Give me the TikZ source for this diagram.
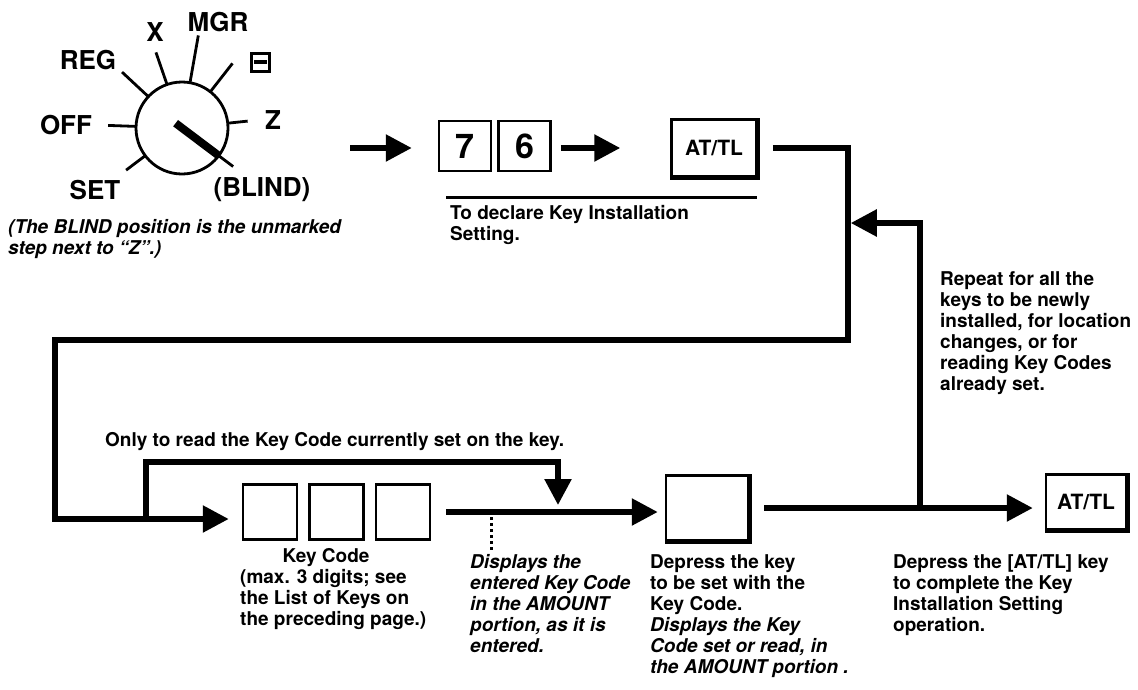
\documentclass[tikz,border=0pt]{standalone}
\usepackage{fontspec}
\setmainfont{TeX Gyre Heros}
\usetikzlibrary{arrows.meta, positioning}
\tikzset{
	dialtxt/.style={font=\fontsize{26}{28}\selectfont\bfseries, inner sep=0pt},
	note/.style={font=\fontsize{19}{21}\selectfont\bfseries, align=left, inner sep=0pt, anchor=north west},
	inote/.style={note, font=\fontsize{19}{21}\selectfont\bfseries\itshape},
	digitkey/.style={draw, line width=2.5pt, minimum width=52pt, minimum height=50pt, inner sep=0pt, font=\fontsize{34}{34}\selectfont\bfseries},
	funckey/.style={draw, line width=2.5pt, minimum width=85pt, minimum height=57pt, inner sep=0pt, font=\fontsize{21}{21}\selectfont\bfseries},
	codekey/.style={draw, line width=2.5pt, minimum width=54pt, minimum height=55pt, inner sep=0pt},
	flowline/.style={line width=5.5pt},
	flowarrow/.style={flowline, -{Triangle[length=26pt, width=26pt]}},
}

\begin{document}
\begin{tikzpicture}[x=1pt, y=-1pt]
\useasboundingbox (0,0) rectangle (1138,689);

% mode switch
\begin{scope}[shift={(182,128)}, yscale=-1]
	\draw[line width=2.8pt] (0,0) circle (46);
	\foreach \ang/\len in {178/74, 137/82, 109/80, 80/94, 52/82, 6/66, -37/64, -143/70}
		\draw[line width=2.8pt] (\ang:46) -- (\ang:\len);
	\draw[line width=8pt] (143:8) -- (-37:46);
\end{scope}
\node[dialtxt] (off) at (66,125) {OFF};
\node[dialtxt] (reg) at (88,60) {REG};
\node[dialtxt] (xpos) at (155,32) {X};
\node[dialtxt] (mgr) at (218,22) {MGR};
\node[draw, line width=3pt, minimum width=18pt, minimum height=18pt, inner sep=0pt] (minus) at (260,62) {};
\fill ([shift={(4pt,-2.2pt)}]minus.west) rectangle ([shift={(-4pt,2.2pt)}]minus.east);
\node[dialtxt] (zpos) at (273,120) {Z};
\node[dialtxt] (set) at (95,190) {SET};
\node[dialtxt] (blind) at (262,190) {(BLIND)};
\node[inote] (blindnote) at (8,219) {(The BLIND position is the unmarked\\step next to ``Z''.)};

% declare row
\node[digitkey] (k7) at (465,146) {7};
\node[digitkey, right=5pt of k7] (k6) {6};
\node[funckey] (atA) at (714,148) {AT/TL};
\draw[line width=3pt] (446,197) -- (757,197);
\node[note] (declare) at (450,205) {To declare Key Installation\\Setting.};

% setting row
\node[codekey] (kc1) at (270,512) {};
\node[codekey, right=10pt of kc1] (kc2) {};
\node[codekey, right=10pt of kc2] (kc3) {};
\node[codekey, minimum width=82pt, minimum height=65pt] (keyset) at (707,508) {};
\node[funckey, minimum width=80pt, minimum height=55pt] (atB) at (1086,502) {AT/TL};
\foreach \k in {atA, keyset, atB}
	\draw[line width=5pt] (\k.north east) -- (\k.south east) -- (\k.south west);

% connectors
\coordinate (dialout) at (350,148);
\coordinate (c1) at (848,340);
\coordinate (c2) at (55,519);
\coordinate (c3) at (146,462);
\coordinate (drop) at (558,505);
\coordinate (junc) at (920,508);
\coordinate (back) at (920,223);
\coordinate (kcin) at (c2 -| kc1.west);
\draw[flowarrow, shorten >=26pt] (dialout) -- (dialout -| k7.west);
\draw[flowarrow, shorten <=9pt, shorten >=50pt] (k6.east |- atA) -- (atA.west);
\draw[flowarrow] ([xshift=15pt]atA.east) -| (c1) -| (c2) -- ([xshift=-13pt]kcin);
\draw[flowarrow] (c3 |- c2) -- (c3) -| (drop);
\draw[flowarrow, shorten <=15pt, shorten >=7pt] (kc3.east) -- (kc3.east -| keyset.west);
\draw[flowarrow, shorten <=15pt, shorten >=12pt] (keyset.east) -- (keyset.east -| atB.west);
\draw[flowarrow, shorten >=2.75pt] (junc) -- (back) -- (back -| c1);
\coordinate (dotA) at (491,517);
\coordinate (dotB) at (491,551);
\draw[line width=3pt, dash pattern=on 3pt off 3pt] (dotA) -- (dotB);

% notes
\node[note, anchor=west] (onlyread) at (105,442) {Only to read the Key Code currently set on the key.};
\node[note] (repeat) at (940,271) {Repeat for all the\\keys to be newly\\installed, for location\\changes, or for\\reading Key Codes\\already set.};
\node[note, anchor=center] (kcname) at (326,558) {Key Code};
\node[note] (kcnote) at (240,569) {(max. 3 digits; see\\the List of Keys on\\the preceding page.)};
\node[inote] (shownote) at (470,554) {Displays the\\entered Key Code\\in the AMOUNT\\portion, as it is\\entered.};
\node[note] (setnote) at (650,554) {Depress the key\\to be set with the\\Key Code.\\\textit{Displays the Key}\\\textit{Code set or read, in}\\\textit{the AMOUNT portion .}};
\node[note] (endnote) at (893,554) {Depress the [AT/TL] key\\to complete the Key\\Installation Setting\\operation.};
\end{tikzpicture}
\end{document}
